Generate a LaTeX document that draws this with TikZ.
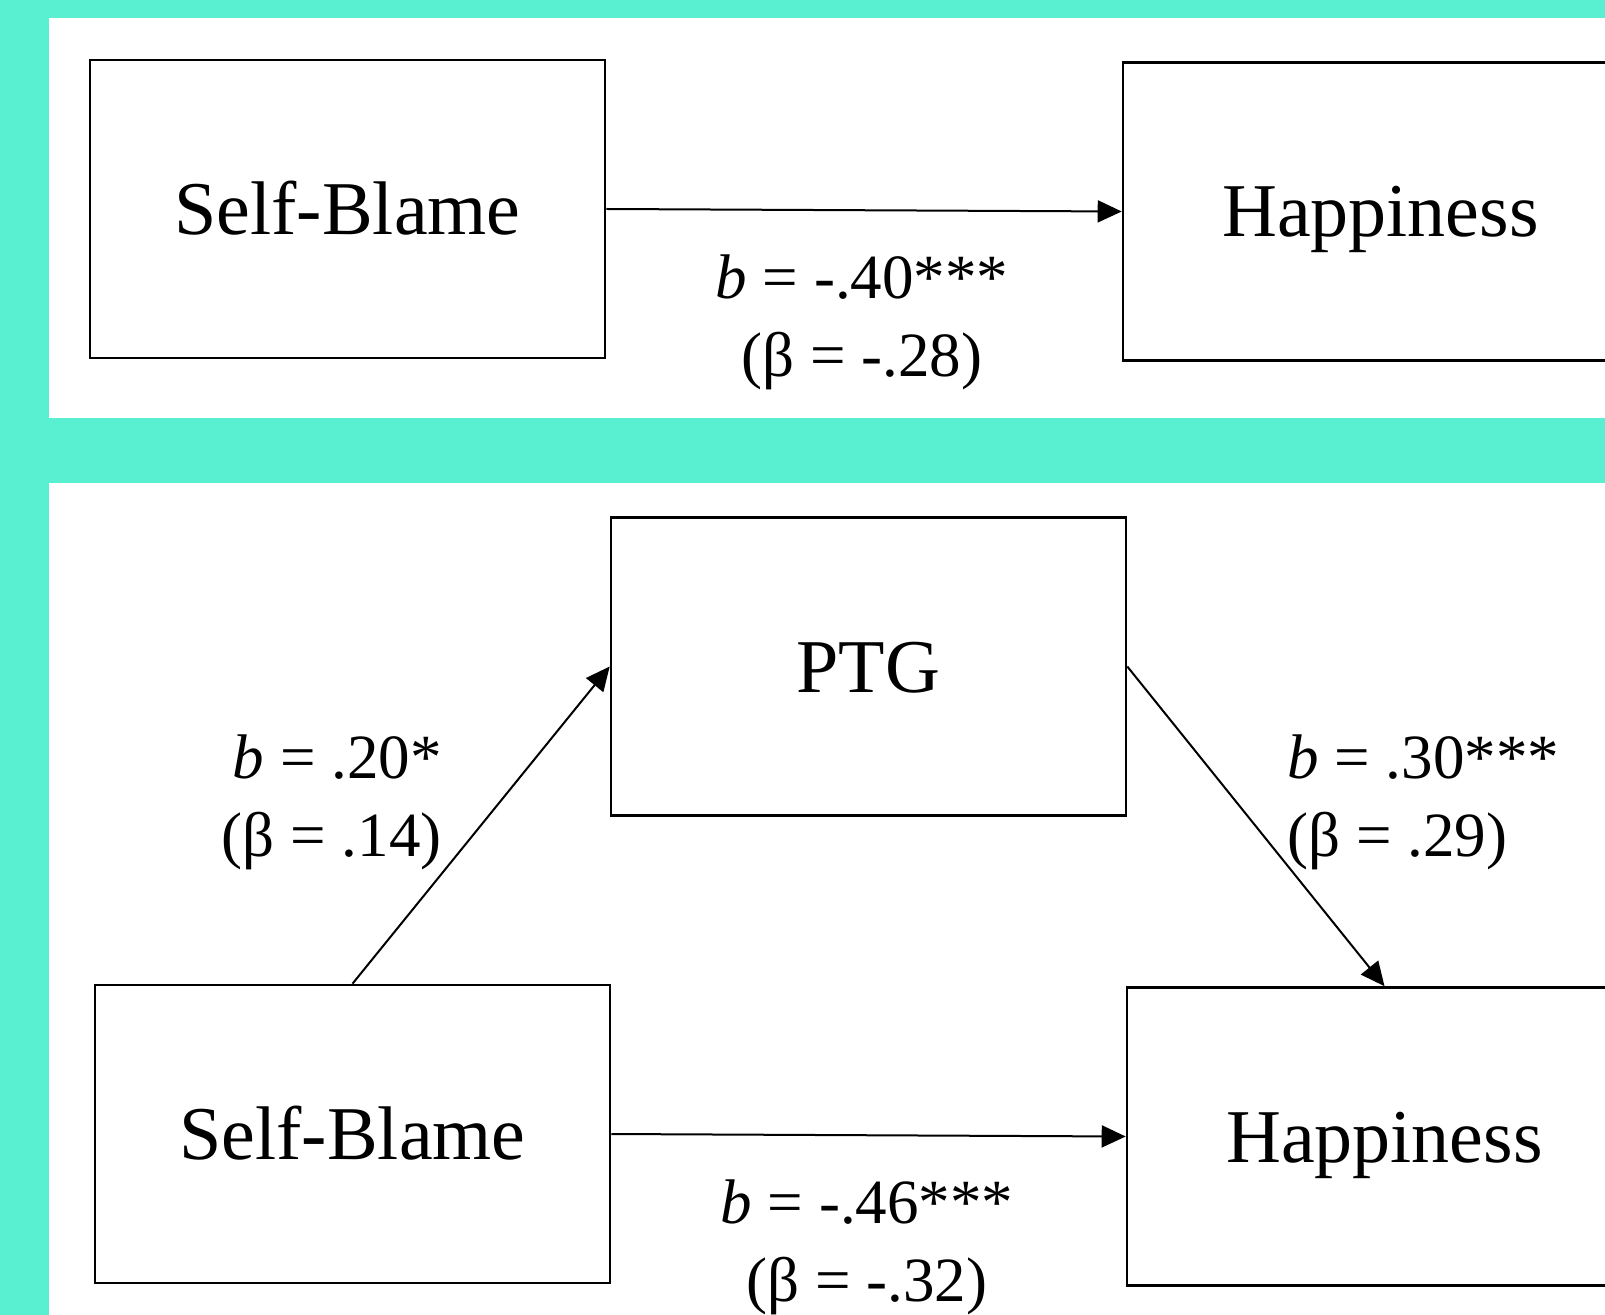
\documentclass[tikz,border=0pt]{standalone}
\usepackage{fontspec}
\setmainfont{Liberation Serif}
\usetikzlibrary{arrows.meta}
\definecolor{bgteal}{RGB}{88,240,208}
\begin{document}
\begin{tikzpicture}[x=0.5pt,y=-0.5pt,
  box/.style={draw=black, line width=1.3pt, fill=white, minimum width=257.5pt, minimum height=149pt,
    inner sep=0pt, text height=25.5pt, text depth=0pt, font=\fontsize{38}{38}\selectfont},
  lbl/.style={inner sep=0pt, font=\fontsize{31.5}{39}\selectfont},
  arr/.style={line width=1pt, -{Triangle[length=12pt,width=11pt]}}]
\useasboundingbox (0,0) rectangle (1605,1315);
\clip (0,0) rectangle (1605,1315);
\fill[bgteal] (0,0) rectangle (1605,1315);
\fill[white] (49,18) rectangle (1700,418);
\fill[white] (49,483) rectangle (1700,1400);

\node[box] (sb1) at (347.5,209) {Self-Blame};
\node[box] (h1) at (1380.5,211.5) {Happiness};
\node[box] (ptg) at (868.5,666.5) {PTG};
\node[box] (sb2) at (352.5,1134) {Self-Blame};
\node[box] (h2) at (1384.5,1136.5) {Happiness};

\draw[arr] (sb1.east) -- (h1.west);
\draw[arr] (sb2.north) -- (ptg.west);
\draw[arr] (ptg.east) -- (h2.north);
\draw[arr] (sb2.east) -- (h2.west);

\node[lbl, align=center] (l1) at (862,322) {\textit{b} = -.40***\\(β = -.28)};
\node[lbl, align=right, anchor=east] (l2) at (442,802) {\textit{b} = .20*\\(β = .14)};
\node[lbl, align=left, anchor=west] (l3) at (1287,802) {\textit{b} = .30***\\(β = .29)};
\node[lbl, align=center] (l4) at (867,1247) {\textit{b} = -.46***\\(β = -.32)};
\end{tikzpicture}
\end{document}
